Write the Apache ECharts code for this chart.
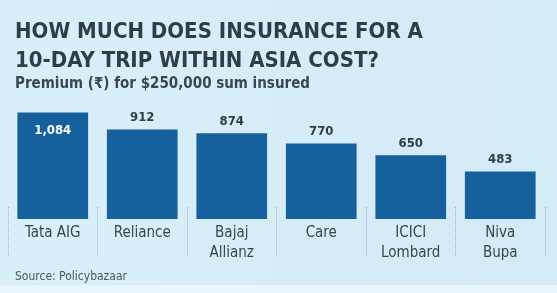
<!DOCTYPE html>
<html>
<head>
<meta charset="utf-8">
<script src="https://cdn.jsdelivr.net/npm/echarts@6/dist/echarts.min.js"></script>
<style>
  html, body { margin: 0; padding: 0; background: #d6edf8; }
  #chart { width: 557px; height: 293px; }
</style>
</head>
<body>
<div id="chart"></div>
<script>
// premium in rupees, 10-day trip within Asia
const insurers = ["Tata AIG", "Reliance", "Bajaj\nAllianz", "Care", "ICICI\nLombard", "Niva\nBupa"];
const premiums = [1084, 912, 874, 770, 650, 483];

const chart = echarts.init(document.getElementById("chart"));

const cond = "'DejaVu Sans Condensed', sans-serif";

const option = {
  backgroundColor: new echarts.graphic.LinearGradient(0, 0, 1, 0, [
    { offset: 0, color: "#d9eff8" },
    { offset: 1, color: "#d3eaf7" }
  ]),
  animation: false,
  graphic: [
    {
      type: "rect",
      left: 0,
      bottom: 0,
      shape: { width: 557, height: 8 },
      style: { fill: "#e8f5fb" }
    }
  ],
  title: [
    {
      text: "HOW MUCH DOES INSURANCE FOR A\n10-DAY TRIP WITHIN ASIA COST?",
      left: 10,
      top: 13,
      textStyle: {
        fontFamily: cond,
        fontWeight: "bold",
        fontSize: 22,
        lineHeight: 29,
        color: "#2f3c4b"
      }
    },
    {
      text: "Premium (₹) for $250,000 sum insured",
      left: 10,
      top: 72,
      textStyle: {
        fontFamily: cond,
        fontWeight: "bold",
        fontSize: 15,
        color: "#3a4652"
      }
    },
    {
      text: "Source: Policybazaar",
      left: 10,
      top: 266,
      textStyle: {
        fontFamily: cond,
        fontWeight: "normal",
        fontSize: 12,
        color: "#4a5562"
      }
    }
  ],
  grid: {
    left: 8,
    right: 12,
    top: 111,
    bottom: 74,
    containLabel: false
  },
  xAxis: [
    {
      type: "category",
      data: insurers,
      axisLine: { show: false },
      axisTick: { show: false },
      axisLabel: {
        margin: 4,
        fontFamily: cond,
        fontSize: 15,
        lineHeight: 20,
        color: "#3a4450"
      }
    },
    {
      // dotted separators between the category labels
      type: "category",
      data: insurers,
      position: "bottom",
      offset: -12,
      axisLine: { show: false },
      axisLabel: { show: false },
      axisTick: {
        show: true,
        length: 50,
        lineStyle: { color: "#9fb4c2", type: "dotted", width: 1 }
      }
    }
  ],
  yAxis: {
    type: "value",
    min: 0,
    max: 1100,
    show: false,
    splitLine: { show: false }
  },
  series: [
    {
      type: "bar",
      data: premiums.map((v, i) => i === 0
        ? { value: v, label: { position: "insideTop", color: "#ffffff", distance: 12 } }
        : v),
      barCategoryGap: "21%",
      itemStyle: { color: "#17609e" },
      label: {
        show: true,
        position: "top",
        distance: 5,
        fontFamily: cond,
        fontWeight: "bold",
        fontSize: 13,
        color: "#2f3c4b",
        formatter: p => p.value.toLocaleString("en-US")
      }
    }
  ]
};

chart.setOption(option);
</script>
</body>
</html>
